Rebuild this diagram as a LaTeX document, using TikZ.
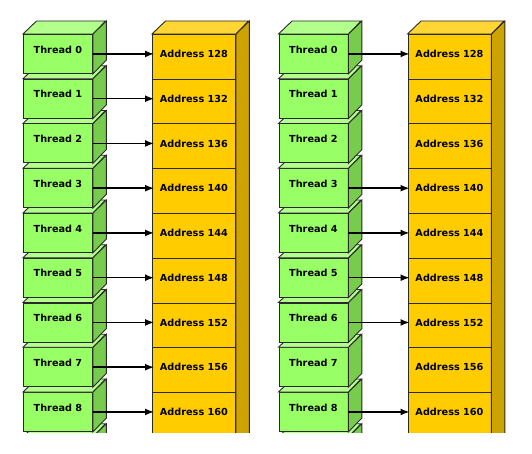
\documentclass[tikz,border=0pt]{standalone}
\usepackage{fontspec}
\setmainfont{DejaVu Sans}
\usepackage{tikz}
\usetikzlibrary{positioning}
\usetikzlibrary{calc}
\usetikzlibrary{arrows.meta}
\definecolor{thrfront}{HTML}{99FF66}
\definecolor{thrtop}{HTML}{B3FF8C}
\definecolor{thrside}{HTML}{77CC4D}
\definecolor{adrfront}{HTML}{FFCC00}
\definecolor{adrtop}{HTML}{FFD633}
\definecolor{adrside}{HTML}{CCA300}
\definecolor{edgegray}{HTML}{2A2A2A}
\tikzset{every picture/.style={line width=0.9pt},
  threadbox/.style={draw=edgegray,fill=thrfront,anchor=north west,minimum width=69pt,minimum height=39pt,inner sep=0pt,text depth=9pt,font=\bfseries\fontsize{9.7}{11}\selectfont},
  cellbox/.style={draw=edgegray,fill=adrfront,anchor=north west,minimum width=83pt,minimum height=44.75pt,inner sep=0pt,text depth=6pt,font=\bfseries\fontsize{9.7}{11}\selectfont},
  link/.style={-{Latex[length=9pt,width=7pt]},line width=1.5pt,shorten >=-2pt}}

\begin{document}
\begin{tikzpicture}[x=1pt,y=-1pt]
\useasboundingbox (0,0) rectangle (532,454);
\begin{scope}
\clip (0,0) rectangle (532,432.5);
\foreach \p/\ox in {l/0,r/255.5}{
  \foreach \i in {9,...,0}{
    \node[threadbox] (t\p\i) at (23+\ox,34+\i*44.75) {\ifnum\i<9 Thread \i\fi};
    \draw[edgegray,fill=thrside] (t\p\i.north east) -- ++(13.5,-13) -- ++(0,39) -- (t\p\i.south east) -- cycle;
    \draw[edgegray,fill=thrtop] (t\p\i.north west) -- ++(13.5,-13) -- ++(69,0) -- (t\p\i.north east) -- cycle;
  }
  \foreach \i in {0,...,9}{
    \pgfmathtruncatemacro\adr{128+4*\i}
    \node[cellbox] (a\p\i) at (152+\ox,34+\i*44.75) {\ifnum\i<9 Address \adr\fi};
  }
  \draw[edgegray,fill=adrside] (a\p0.north east) -- ++(13.5,-13) |- (a\p9.south east) -- cycle;
  \draw[edgegray,fill=adrtop] (a\p0.north west) -- ++(13.5,-13) -- ++(83,0) -- (a\p0.north east) -- cycle;
}
\foreach \i in {0,...,8}
  \draw[link] (tl\i.east) -- (tl\i.east -| al\i.west);
\foreach \i in {0,3,4,5,6,8}
  \draw[link] (tr\i.east) -- (tr\i.east -| ar\i.west);
\end{scope}
\end{tikzpicture}
\end{document}
